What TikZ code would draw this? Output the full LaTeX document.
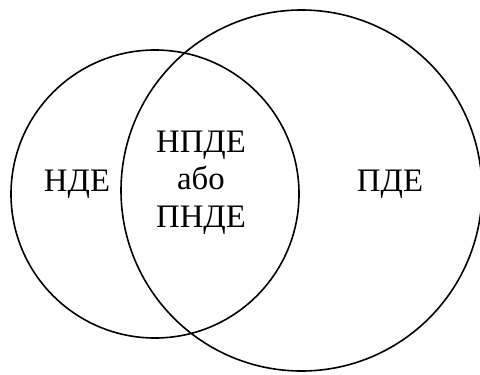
\documentclass[tikz,border=0pt]{standalone}
\usepackage{fontspec}
\setmainfont{Liberation Serif}
\usetikzlibrary{positioning}
\tikzset{ring/.style={draw,circle,line width=0.8pt,inner sep=0pt},lbl/.style={align=center,font=\fontsize{16.4}{18.75}\selectfont}}
\begin{document}
\begin{tikzpicture}[x=0.5pt,y=-0.5pt]
\useasboundingbox(0,0)rectangle(480,374);
\node[ring,minimum size=144pt](nde)at(155,194){};
\node[ring,minimum size=180.5pt](pde)at(301.5,190.5){};
\node[lbl](tnde)at(77,184){НДЕ};
\node[lbl](tpde)at(390,184){ПДЕ};
\node[lbl](tmid)at(201,182.5){НПДЕ\\або\\ПНДЕ};
\end{tikzpicture}
\end{document}
